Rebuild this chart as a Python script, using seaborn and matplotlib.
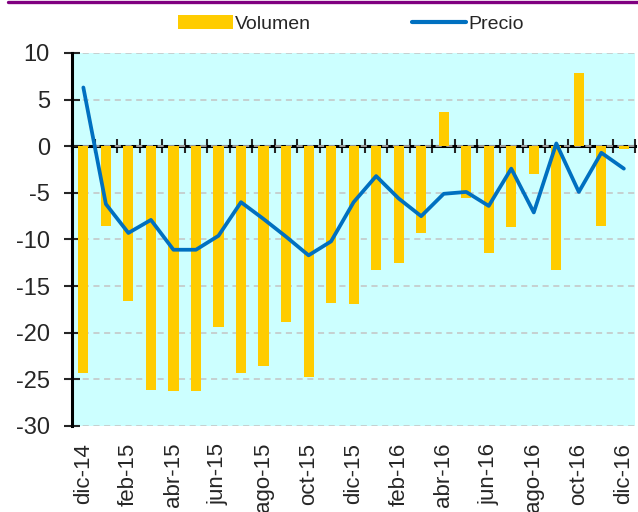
import numpy as np
import pandas as pd
import seaborn as sns
import matplotlib.pyplot as plt
from matplotlib.lines import Line2D
from matplotlib.patches import Patch

# monthly series, dic-14 .. dic-16
meses = ['dic-14', 'ene-15', 'feb-15', 'mar-15', 'abr-15', 'may-15', 'jun-15',
         'jul-15', 'ago-15', 'sep-15', 'oct-15', 'nov-15', 'dic-15', 'ene-16',
         'feb-16', 'mar-16', 'abr-16', 'may-16', 'jun-16', 'jul-16', 'ago-16',
         'sep-16', 'oct-16', 'nov-16', 'dic-16']
volumen = [-24.3, -8.5, -16.6, -26.1, -26.3, -26.3, -19.4, -24.3, -23.6, -18.8,
           -24.7, -16.8, -16.9, -13.3, -12.5, -9.3, 3.7, -5.6, -11.4, -8.7,
           -3.0, -13.3, 7.9, -8.5, -0.3]
precio = [6.3, -6.2, -9.3, -7.9, -11.1, -11.1, -9.6, -6.0, -7.8, -9.7,
          -11.7, -10.2, -6.0, -3.2, -5.6, -7.5, -5.1, -4.9, -6.4, -2.4,
          -7.1, 0.3, -4.9, -0.7, -2.4]

df = pd.DataFrame({'mes': meses, 'Volumen': volumen, 'Precio': precio})
df['pos'] = np.arange(len(df))

sns.set_style('white')
plt.rcParams['font.family'] = ['Liberation Sans', 'DejaVu Sans']
plt.rcParams['axes.unicode_minus'] = False

BAR = '#FFCC00'
LINE = '#0070C0'

fig = plt.figure(figsize=(6.38, 5.12), dpi=100)
ax = fig.add_axes([0.113, 0.168, 0.8825, 0.7285])
ax.set_facecolor('#CCFFFF')

sns.barplot(data=df, x='mes', y='Volumen', color=BAR, saturation=1,
            width=0.45, linewidth=0, ax=ax)
sns.lineplot(data=df, x='pos', y='Precio', color=LINE, lw=2.7, ax=ax)

ax.set_xlim(-0.5, len(df) - 0.5)
ax.set_ylim(-30, 10)
ax.set_yticks(range(-30, 11, 5))
ax.set_xlabel('')
ax.set_ylabel('')

# only every second month labelled at the bottom
ax.set_xticks(df['pos'])
ax.set_xticklabels([m if i % 2 == 0 else '' for i, m in enumerate(meses)],
                   rotation=90, fontsize=16)
ax.tick_params(axis='x', length=0, pad=12)
ax.tick_params(axis='y', direction='inout', length=12, width=1.5,
               labelsize=17, pad=10, left=True)

ax.yaxis.grid(True, linestyle=(0, (4, 3)), color='#C4C4C4', linewidth=1.1)
ax.xaxis.grid(False)
ax.set_axisbelow(True)

for s in ['top', 'right', 'bottom']:
    ax.spines[s].set_visible(False)
ax.spines['left'].set_linewidth(2.2)
ax.spines['left'].set_color('black')

# zero line with ticks between categories
zero = (0 - (-30)) / 40
sec = ax.secondary_xaxis(zero)
sec.set_xticks(np.arange(-0.5, len(df), 1))
sec.tick_params(direction='inout', length=10, width=1.5,
                labeltop=False, labelbottom=False)
for s in sec.spines.values():
    s.set_linewidth(2.2)
    s.set_color('black')

handles = [Patch(facecolor=BAR, edgecolor='none', label='Volumen'),
           Line2D([], [], color=LINE, lw=3, label='Precio')]
fig.legend(handles=handles, loc='center', bbox_to_anchor=(0.55, 0.953),
           ncol=2, frameon=False, fontsize=14, handlelength=2.8,
           handletextpad=0.1, columnspacing=5.2)

fig.add_artist(Line2D([0.013, 1.0], [1 - 1.5 / 512] * 2, color='#800080',
                      lw=2.4, transform=fig.transFigure))

fig.savefig('out.png', dpi=100)
